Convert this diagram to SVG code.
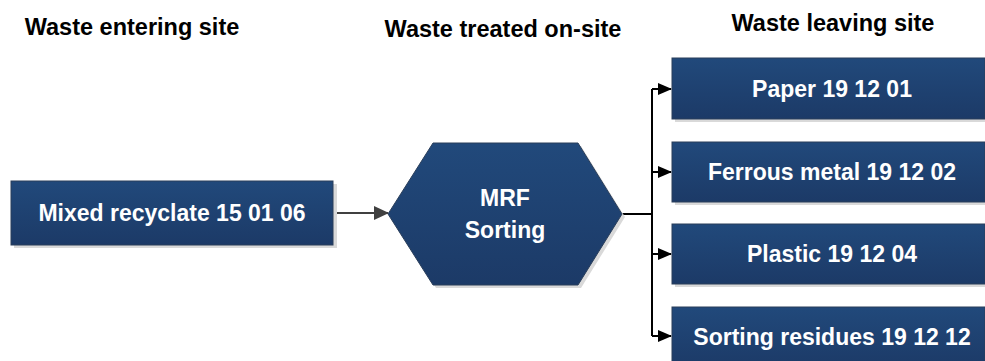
<svg xmlns="http://www.w3.org/2000/svg" width="985" height="361" viewBox="0 0 985 361">
<defs>
<linearGradient id="g" x1="0" y1="0" x2="0" y2="1">
<stop offset="0" stop-color="#21497b"/>
<stop offset="1" stop-color="#1c3a67"/>
</linearGradient>
<marker id="ah" markerWidth="14" markerHeight="12" refX="13" refY="6" orient="auto" markerUnits="userSpaceOnUse">
<path d="M0,0 L14,6 L0,12 Z" fill="#000"/>
</marker>
<marker id="ahg" markerWidth="15" markerHeight="14" refX="14" refY="7" orient="auto" markerUnits="userSpaceOnUse">
<path d="M0,0 L15,7 L0,14 Z" fill="#404040"/>
</marker>
</defs>
<style>
.box{fill:url(#g);stroke:#2a3e5a;stroke-width:1}
.sh{fill:#d9d9d9}
.t{font-family:"Liberation Sans",Arial,sans-serif;font-weight:bold;font-size:23px;fill:#fff;text-anchor:middle;dominant-baseline:central}
.h{font-family:"Liberation Sans",Arial,sans-serif;font-weight:bold;font-size:23.5px;fill:#000;text-anchor:middle;dominant-baseline:central}
.c{fill:none;stroke:#000;stroke-width:2}
</style>
<rect width="985" height="361" fill="#fff"/>
<g id="headers">
<text class="h" x="132" y="27">Waste entering site</text>
<text class="h" x="503" y="29">Waste treated on-site</text>
<text class="h" x="833" y="23">Waste leaving site</text>
</g>
<g id="connectors">
<line x1="333" y1="213" x2="388" y2="213" stroke="#404040" stroke-width="2" marker-end="url(#ahg)"/>
<polyline class="c" points="622,214 652,214"/>
<polyline class="c" points="652,89 652,336"/>
<line class="c" x1="652" y1="89" x2="671" y2="89" marker-end="url(#ah)"/>
<line class="c" x1="652" y1="172" x2="671" y2="172" marker-end="url(#ah)"/>
<line class="c" x1="652" y1="254" x2="671" y2="254" marker-end="url(#ah)"/>
<line class="c" x1="652" y1="336" x2="671" y2="336" marker-end="url(#ah)"/>
</g>
<g id="mixed">
<rect class="sh" x="14" y="184" width="323" height="64"/>
<rect class="box" x="11" y="181" width="322" height="64"/>
<text class="t" x="172" y="213">Mixed recyclate 15 01 06</text>
</g>
<g id="mrf">
<polygon class="sh" points="391,217 436,146 581,146 625,217 581,288 436,288"/>
<polygon class="box" points="388,214 433,143 578,143 622,214 578,285 433,285"/>
<text class="t" x="505" y="198">MRF</text>
<text class="t" x="505" y="230">Sorting</text>
</g>
<g id="paper">
<rect class="sh" x="675" y="61" width="313" height="61"/>
<rect class="box" x="672" y="58" width="313" height="61"/>
<text class="t" x="832" y="89">Paper 19 12 01</text>
</g>
<g id="ferrous">
<rect class="sh" x="675" y="145" width="313" height="60"/>
<rect class="box" x="672" y="142" width="313" height="60"/>
<text class="t" x="832" y="172">Ferrous metal 19 12 02</text>
</g>
<g id="plastic">
<rect class="sh" x="675" y="227" width="313" height="60"/>
<rect class="box" x="672" y="224" width="313" height="60"/>
<text class="t" x="832" y="254">Plastic 19 12 04</text>
</g>
<g id="residues">
<rect class="sh" x="675" y="310" width="313" height="61"/>
<rect class="box" x="672" y="307" width="313" height="61"/>
<text class="t" x="832" y="337">Sorting residues 19 12 12</text>
</g>
</svg>
